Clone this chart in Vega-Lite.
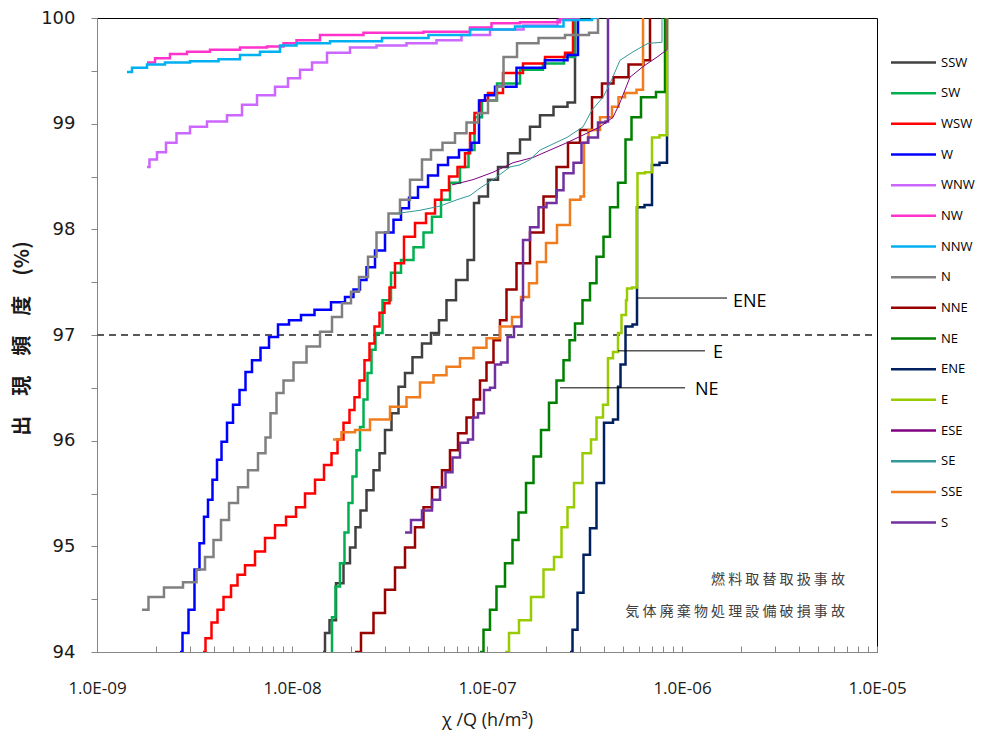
{
  "$schema": "https://vega.github.io/schema/vega-lite/v6.json",
  "width": 780,
  "height": 634,
  "autosize": {"type": "none"},
  "padding": {"left": 97, "top": 18, "right": 107, "bottom": 83},
  "background": "white",
  "config": {"view": {"stroke": "#000", "strokeWidth": 1}},
  "datasets": {
    "lines": [
      {"d":"SSW","x":1.442e-8,"y":94.0},{"d":"SSW","x":1.512e-8,"y":94.18},{"d":"SSW","x":1.604e-8,"y":94.30},{"d":"SSW","x":1.763e-8,"y":94.65},{"d":"SSW","x":1.914e-8,"y":94.84},{"d":"SSW","x":2.055e-8,"y":94.99},{"d":"SSW","x":2.180e-8,"y":95.18},{"d":"SSW","x":2.313e-8,"y":95.34},{"d":"SSW","x":2.512e-8,"y":95.53},{"d":"SSW","x":2.729e-8,"y":95.72},{"d":"SSW","x":2.894e-8,"y":95.88},{"d":"SSW","x":3.107e-8,"y":96.10},{"d":"SSW","x":3.375e-8,"y":96.26},{"d":"SSW","x":3.665e-8,"y":96.51},{"d":"SSW","x":3.934e-8,"y":96.64},{"d":"SSW","x":4.375e-8,"y":96.79},{"d":"SSW","x":4.923e-8,"y":96.92},{"d":"SSW","x":5.412e-8,"y":97.02},{"d":"SSW","x":5.947e-8,"y":97.14},{"d":"SSW","x":6.460e-8,"y":97.33},{"d":"SSW","x":7.445e-8,"y":97.52},{"d":"SSW","x":8.477e-8,"y":97.71},{"d":"SSW","x":8.680e-8,"y":98.25},{"d":"SSW","x":9.539e-8,"y":98.31},{"d":"SSW","x":1.073e-7,"y":98.47},{"d":"SSW","x":1.208e-7,"y":98.59},{"d":"SSW","x":1.359e-7,"y":98.72},{"d":"SSW","x":1.604e-7,"y":98.85},{"d":"SSW","x":1.721e-7,"y":98.97},{"d":"SSW","x":2.031e-7,"y":99.08},{"d":"SSW","x":2.368e-7,"y":99.16},{"d":"SSW","x":2.827e-7,"y":99.20},{"d":"SSW","x":2.827e-7,"y":100},
      {"d":"SW","x":1.585e-8,"y":94.0},{"d":"SW","x":1.623e-8,"y":94.33},{"d":"SW","x":1.721e-8,"y":94.62},{"d":"SW","x":1.805e-8,"y":94.84},{"d":"SW","x":1.914e-8,"y":95.13},{"d":"SW","x":1.983e-8,"y":95.41},{"d":"SW","x":2.104e-8,"y":95.66},{"d":"SW","x":2.180e-8,"y":95.91},{"d":"SW","x":2.286e-8,"y":96.13},{"d":"SW","x":2.368e-8,"y":96.39},{"d":"SW","x":2.512e-8,"y":96.64},{"d":"SW","x":2.603e-8,"y":96.86},{"d":"SW","x":2.761e-8,"y":97.02},{"d":"SW","x":3.070e-8,"y":97.33},{"d":"SW","x":3.375e-8,"y":97.59},{"d":"SW","x":3.888e-8,"y":97.71},{"d":"SW","x":4.534e-8,"y":97.83},{"d":"SW","x":4.923e-8,"y":97.97},{"d":"SW","x":5.541e-8,"y":98.12},{"d":"SW","x":6.090e-8,"y":98.28},{"d":"SW","x":6.854e-8,"y":98.44},{"d":"SW","x":7.713e-8,"y":98.59},{"d":"SW","x":8.378e-8,"y":98.75},{"d":"SW","x":8.887e-8,"y":99.06},{"d":"SW","x":1.0e-7,"y":99.22},{"d":"SW","x":1.267e-7,"y":99.38},{"d":"SW","x":1.721e-7,"y":99.51},{"d":"SW","x":2.180e-7,"y":99.57},{"d":"SW","x":2.827e-7,"y":99.63},{"d":"SW","x":2.827e-7,"y":100},
      {"d":"WSW","x":3.496e-9,"y":94.0},{"d":"WSW","x":3.709e-9,"y":94.13},{"d":"WSW","x":4.028e-9,"y":94.28},{"d":"WSW","x":4.274e-9,"y":94.40},{"d":"WSW","x":4.642e-9,"y":94.52},{"d":"WSW","x":5.103e-9,"y":94.63},{"d":"WSW","x":5.412e-9,"y":94.73},{"d":"WSW","x":6.090e-9,"y":94.82},{"d":"WSW","x":6.854e-9,"y":94.95},{"d":"WSW","x":7.713e-9,"y":95.08},{"d":"WSW","x":8.680e-9,"y":95.20},{"d":"WSW","x":1.0e-8,"y":95.28},{"d":"WSW","x":1.099e-8,"y":95.37},{"d":"WSW","x":1.237e-8,"y":95.50},{"d":"WSW","x":1.392e-8,"y":95.63},{"d":"WSW","x":1.530e-8,"y":95.77},{"d":"WSW","x":1.662e-8,"y":95.88},{"d":"WSW","x":1.763e-8,"y":96.01},{"d":"WSW","x":1.914e-8,"y":96.17},{"d":"WSW","x":2.031e-8,"y":96.29},{"d":"WSW","x":2.154e-8,"y":96.41},{"d":"WSW","x":2.286e-8,"y":96.57},{"d":"WSW","x":2.424e-8,"y":96.76},{"d":"WSW","x":2.572e-8,"y":96.92},{"d":"WSW","x":2.729e-8,"y":97.08},{"d":"WSW","x":2.894e-8,"y":97.21},{"d":"WSW","x":3.070e-8,"y":97.30},{"d":"WSW","x":3.257e-8,"y":97.45},{"d":"WSW","x":3.496e-8,"y":97.68},{"d":"WSW","x":4.028e-8,"y":97.93},{"d":"WSW","x":4.534e-8,"y":98.06},{"d":"WSW","x":5.224e-8,"y":98.15},{"d":"WSW","x":5.608e-8,"y":98.28},{"d":"WSW","x":6.090e-8,"y":98.37},{"d":"WSW","x":6.693e-8,"y":98.50},{"d":"WSW","x":7.445e-8,"y":98.59},{"d":"WSW","x":7.991e-8,"y":98.72},{"d":"WSW","x":8.378e-8,"y":98.91},{"d":"WSW","x":8.887e-8,"y":99.10},{"d":"WSW","x":9.539e-8,"y":99.22},{"d":"WSW","x":1.073e-7,"y":99.29},{"d":"WSW","x":1.359e-7,"y":99.48},{"d":"WSW","x":1.721e-7,"y":99.57},{"d":"WSW","x":2.286e-7,"y":99.63},{"d":"WSW","x":2.761e-7,"y":99.67},{"d":"WSW","x":2.761e-7,"y":100},
      {"d":"W","x":2.665e-9,"y":94.0},{"d":"W","x":2.827e-9,"y":94.18},{"d":"W","x":3.070e-9,"y":94.40},{"d":"W","x":3.257e-9,"y":94.78},{"d":"W","x":3.455e-9,"y":95.03},{"d":"W","x":3.622e-9,"y":95.28},{"d":"W","x":3.797e-9,"y":95.44},{"d":"W","x":4.028e-9,"y":95.63},{"d":"W","x":4.223e-9,"y":95.82},{"d":"W","x":4.481e-9,"y":95.99},{"d":"W","x":4.809e-9,"y":96.17},{"d":"W","x":5.163e-9,"y":96.34},{"d":"W","x":5.608e-9,"y":96.48},{"d":"W","x":5.947e-9,"y":96.65},{"d":"W","x":6.537e-9,"y":96.76},{"d":"W","x":7.271e-9,"y":96.88},{"d":"W","x":7.991e-9,"y":96.98},{"d":"W","x":8.993e-9,"y":97.10},{"d":"W","x":1.036e-8,"y":97.14},{"d":"W","x":1.194e-8,"y":97.19},{"d":"W","x":1.425e-8,"y":97.24},{"d":"W","x":1.763e-8,"y":97.31},{"d":"W","x":1.983e-8,"y":97.36},{"d":"W","x":2.154e-8,"y":97.43},{"d":"W","x":2.313e-8,"y":97.52},{"d":"W","x":2.512e-8,"y":97.64},{"d":"W","x":2.827e-8,"y":97.80},{"d":"W","x":3.181e-8,"y":97.97},{"d":"W","x":3.455e-8,"y":98.09},{"d":"W","x":3.797e-8,"y":98.20},{"d":"W","x":4.173e-8,"y":98.30},{"d":"W","x":4.697e-8,"y":98.40},{"d":"W","x":5.286e-8,"y":98.51},{"d":"W","x":5.947e-8,"y":98.61},{"d":"W","x":6.693e-8,"y":98.68},{"d":"W","x":7.713e-8,"y":98.75},{"d":"W","x":8.993e-8,"y":98.82},{"d":"W","x":9.207e-8,"y":99.22},{"d":"W","x":1.036e-7,"y":99.27},{"d":"W","x":1.166e-7,"y":99.35},{"d":"W","x":1.721e-7,"y":99.53},{"d":"W","x":2.286e-7,"y":99.60},{"d":"W","x":2.929e-7,"y":99.65},{"d":"W","x":2.929e-7,"y":100},
      {"d":"WNW","x":1.805e-9,"y":98.59},{"d":"WNW","x":1.914e-9,"y":98.66},{"d":"WNW","x":2.154e-9,"y":98.73},{"d":"WNW","x":2.368e-9,"y":98.82},{"d":"WNW","x":2.761e-9,"y":98.91},{"d":"WNW","x":3.257e-9,"y":98.97},{"d":"WNW","x":4.125e-9,"y":99.02},{"d":"WNW","x":5.224e-9,"y":99.08},{"d":"WNW","x":5.878e-9,"y":99.18},{"d":"WNW","x":7.445e-9,"y":99.27},{"d":"WNW","x":8.993e-9,"y":99.35},{"d":"WNW","x":1.012e-8,"y":99.43},{"d":"WNW","x":1.194e-8,"y":99.51},{"d":"WNW","x":1.344e-8,"y":99.58},{"d":"WNW","x":1.701e-8,"y":99.67},{"d":"WNW","x":2.313e-8,"y":99.72},{"d":"WNW","x":3.181e-8,"y":99.74},{"d":"WNW","x":4.697e-8,"y":99.76},{"d":"WNW","x":6.460e-8,"y":99.79},{"d":"WNW","x":8.477e-8,"y":99.84},{"d":"WNW","x":1.267e-7,"y":99.89},{"d":"WNW","x":1.870e-7,"y":99.93},{"d":"WNW","x":2.827e-7,"y":99.98},
      {"d":"NW","x":1.805e-9,"y":99.58},{"d":"NW","x":2.180e-9,"y":99.62},{"d":"NW","x":2.572e-9,"y":99.66},{"d":"NW","x":3.257e-9,"y":99.68},{"d":"NW","x":4.428e-9,"y":99.70},{"d":"NW","x":6.615e-9,"y":99.72},{"d":"NW","x":8.378e-9,"y":99.73},{"d":"NW","x":9.766e-9,"y":99.76},{"d":"NW","x":1.139e-8,"y":99.79},{"d":"NW","x":1.701e-8,"y":99.84},{"d":"NW","x":3.181e-8,"y":99.86},{"d":"NW","x":7.017e-8,"y":99.87},{"d":"NW","x":9.539e-8,"y":99.91},{"d":"NW","x":1.166e-7,"y":99.95},{"d":"NW","x":1.870e-7,"y":99.96},{"d":"NW","x":2.999e-7,"y":100},
      {"d":"NNW","x":1.425e-9,"y":99.49},{"d":"NNW","x":1.604e-9,"y":99.53},{"d":"NNW","x":2.031e-9,"y":99.56},{"d":"NNW","x":2.453e-9,"y":99.58},{"d":"NNW","x":3.665e-9,"y":99.59},{"d":"NNW","x":4.809e-9,"y":99.61},{"d":"NNW","x":6.090e-9,"y":99.65},{"d":"NNW","x":7.713e-9,"y":99.68},{"d":"NNW","x":9.766e-9,"y":99.74},{"d":"NNW","x":1.139e-8,"y":99.76},{"d":"NNW","x":2.154e-8,"y":99.78},{"d":"NNW","x":3.888e-8,"y":99.81},{"d":"NNW","x":6.460e-8,"y":99.84},{"d":"NNW","x":1.036e-7,"y":99.89},{"d":"NNW","x":1.870e-7,"y":99.92},{"d":"NNW","x":3.257e-7,"y":99.98},{"d":"NNW","x":3.665e-7,"y":100},
      {"d":"N","x":1.701e-9,"y":94.40},{"d":"N","x":1.983e-9,"y":94.52},{"d":"N","x":2.453e-9,"y":94.61},{"d":"N","x":3.107e-9,"y":94.66},{"d":"N","x":3.375e-9,"y":94.78},{"d":"N","x":3.797e-9,"y":94.90},{"d":"N","x":4.125e-9,"y":95.06},{"d":"N","x":4.534e-9,"y":95.25},{"d":"N","x":4.983e-9,"y":95.41},{"d":"N","x":5.608e-9,"y":95.56},{"d":"N","x":6.310e-9,"y":95.72},{"d":"N","x":7.101e-9,"y":95.88},{"d":"N","x":7.533e-9,"y":96.03},{"d":"N","x":7.991e-9,"y":96.26},{"d":"N","x":8.680e-9,"y":96.45},{"d":"N","x":9.428e-9,"y":96.57},{"d":"N","x":1.099e-8,"y":96.74},{"d":"N","x":1.282e-8,"y":96.89},{"d":"N","x":1.512e-8,"y":97.03},{"d":"N","x":1.701e-8,"y":97.17},{"d":"N","x":1.914e-8,"y":97.30},{"d":"N","x":2.104e-8,"y":97.41},{"d":"N","x":2.313e-8,"y":97.55},{"d":"N","x":2.603e-8,"y":97.74},{"d":"N","x":2.827e-8,"y":97.97},{"d":"N","x":3.455e-8,"y":98.15},{"d":"N","x":3.709e-8,"y":98.28},{"d":"N","x":4.375e-8,"y":98.47},{"d":"N","x":4.923e-8,"y":98.66},{"d":"N","x":5.412e-8,"y":98.75},{"d":"N","x":6.460e-8,"y":98.82},{"d":"N","x":7.271e-8,"y":98.91},{"d":"N","x":8.477e-8,"y":99.01},{"d":"N","x":9.539e-8,"y":99.10},{"d":"N","x":1.073e-7,"y":99.22},{"d":"N","x":1.166e-7,"y":99.35},{"d":"N","x":1.267e-7,"y":99.63},{"d":"N","x":1.604e-7,"y":99.76},{"d":"N","x":2.104e-7,"y":99.81},{"d":"N","x":2.999e-7,"y":99.84},{"d":"N","x":3.709e-7,"y":99.86},{"d":"N","x":3.709e-7,"y":100},
      {"d":"NNE","x":2.104e-8,"y":94.0},{"d":"NNE","x":2.424e-8,"y":94.18},{"d":"NNE","x":2.827e-8,"y":94.37},{"d":"NNE","x":3.181e-8,"y":94.59},{"d":"NNE","x":3.580e-8,"y":94.80},{"d":"NNE","x":4.028e-8,"y":94.99},{"d":"NNE","x":4.534e-8,"y":95.18},{"d":"NNE","x":4.923e-8,"y":95.37},{"d":"NNE","x":5.541e-8,"y":95.56},{"d":"NNE","x":6.235e-8,"y":95.72},{"d":"NNE","x":6.693e-8,"y":95.91},{"d":"NNE","x":7.533e-8,"y":96.07},{"d":"NNE","x":8.182e-8,"y":96.22},{"d":"NNE","x":8.887e-8,"y":96.39},{"d":"NNE","x":9.539e-8,"y":96.57},{"d":"NNE","x":1.036e-7,"y":96.74},{"d":"NNE","x":1.125e-7,"y":96.95},{"d":"NNE","x":1.208e-7,"y":97.14},{"d":"NNE","x":1.312e-7,"y":97.43},{"d":"NNE","x":1.530e-7,"y":97.68},{"d":"NNE","x":1.805e-7,"y":97.97},{"d":"NNE","x":2.104e-7,"y":98.31},{"d":"NNE","x":2.453e-7,"y":98.59},{"d":"NNE","x":2.761e-7,"y":98.82},{"d":"NNE","x":3.257e-7,"y":98.94},{"d":"NNE","x":3.665e-7,"y":99.25},{"d":"NNE","x":4.125e-7,"y":99.38},{"d":"NNE","x":4.809e-7,"y":99.44},{"d":"NNE","x":5.878e-7,"y":99.56},{"d":"NNE","x":6.854e-7,"y":99.60},{"d":"NNE","x":6.854e-7,"y":100},
      {"d":"NE","x":9.207e-8,"y":94.0},{"d":"NE","x":1.0e-7,"y":94.21},{"d":"NE","x":1.073e-7,"y":94.40},{"d":"NE","x":1.166e-7,"y":94.62},{"d":"NE","x":1.312e-7,"y":94.84},{"d":"NE","x":1.392e-7,"y":95.06},{"d":"NE","x":1.512e-7,"y":95.32},{"d":"NE","x":1.662e-7,"y":95.60},{"d":"NE","x":1.805e-7,"y":95.85},{"d":"NE","x":1.983e-7,"y":96.10},{"d":"NE","x":2.180e-7,"y":96.36},{"d":"NE","x":2.368e-7,"y":96.57},{"d":"NE","x":2.572e-7,"y":96.76},{"d":"NE","x":2.729e-7,"y":96.95},{"d":"NE","x":2.929e-7,"y":97.11},{"d":"NE","x":3.257e-7,"y":97.33},{"d":"NE","x":3.496e-7,"y":97.49},{"d":"NE","x":3.797e-7,"y":97.74},{"d":"NE","x":4.125e-7,"y":97.93},{"d":"NE","x":4.428e-7,"y":98.21},{"d":"NE","x":4.983e-7,"y":98.44},{"d":"NE","x":5.286e-7,"y":98.85},{"d":"NE","x":5.741e-7,"y":99.06},{"d":"NE","x":6.615e-7,"y":99.25},{"d":"NE","x":8.182e-7,"y":99.30},{"d":"NE","x":8.182e-7,"y":100},
      {"d":"ENE","x":2.665e-7,"y":94.0},{"d":"ENE","x":2.827e-7,"y":94.21},{"d":"ENE","x":2.999e-7,"y":94.56},{"d":"ENE","x":3.257e-7,"y":94.92},{"d":"ENE","x":3.496e-7,"y":95.17},{"d":"ENE","x":3.797e-7,"y":95.60},{"d":"ENE","x":4.173e-7,"y":96.17},{"d":"ENE","x":4.697e-7,"y":96.20},{"d":"ENE","x":4.697e-7,"y":96.51},{"d":"ENE","x":4.983e-7,"y":96.72},{"d":"ENE","x":5.286e-7,"y":97.08},{"d":"ENE","x":5.878e-7,"y":97.10},{"d":"ENE","x":5.878e-7,"y":98.21},{"d":"ENE","x":7.017e-7,"y":98.23},{"d":"ENE","x":7.017e-7,"y":98.61},{"d":"ENE","x":8.378e-7,"y":98.63},{"d":"ENE","x":8.378e-7,"y":100},
      {"d":"E","x":1.237e-7,"y":94.0},{"d":"E","x":1.359e-7,"y":94.18},{"d":"E","x":1.566e-7,"y":94.30},{"d":"E","x":1.805e-7,"y":94.52},{"d":"E","x":2.104e-7,"y":94.78},{"d":"E","x":2.313e-7,"y":94.90},{"d":"E","x":2.512e-7,"y":95.18},{"d":"E","x":2.665e-7,"y":95.37},{"d":"E","x":2.929e-7,"y":95.60},{"d":"E","x":3.257e-7,"y":95.88},{"d":"E","x":3.580e-7,"y":96.01},{"d":"E","x":3.709e-7,"y":96.22},{"d":"E","x":4.173e-7,"y":96.34},{"d":"E","x":4.173e-7,"y":96.78},{"d":"E","x":4.697e-7,"y":96.84},{"d":"E","x":4.697e-7,"y":97.02},{"d":"E","x":5.103e-7,"y":97.19},{"d":"E","x":5.224e-7,"y":97.33},{"d":"E","x":5.224e-7,"y":97.44},{"d":"E","x":5.878e-7,"y":97.45},{"d":"E","x":5.878e-7,"y":98.21},{"d":"E","x":5.947e-7,"y":98.53},{"d":"E","x":7.017e-7,"y":98.54},{"d":"E","x":7.017e-7,"y":98.87},{"d":"E","x":8.378e-7,"y":98.89},{"d":"E","x":8.378e-7,"y":100},
      {"d":"ESE","x":6.615e-8,"y":98.42},{"d":"ESE","x":8.477e-8,"y":98.47},{"d":"ESE","x":1.073e-7,"y":98.54},{"d":"ESE","x":1.359e-7,"y":98.63},{"d":"ESE","x":1.721e-7,"y":98.68},{"d":"ESE","x":2.572e-7,"y":98.82},{"d":"ESE","x":3.257e-7,"y":98.91},{"d":"ESE","x":3.797e-7,"y":98.97},{"d":"ESE","x":4.428e-7,"y":99.06},{"d":"ESE","x":4.809e-7,"y":99.20},{"d":"ESE","x":5.412e-7,"y":99.44},{"d":"ESE","x":6.310e-7,"y":99.54},{"d":"ESE","x":7.445e-7,"y":99.63},{"d":"ESE","x":8.378e-7,"y":99.70},{"d":"ESE","x":8.378e-7,"y":100},
      {"d":"SE","x":3.455e-8,"y":98.15},{"d":"SE","x":4.534e-8,"y":98.18},{"d":"SE","x":5.741e-8,"y":98.22},{"d":"SE","x":7.017e-8,"y":98.28},{"d":"SE","x":8.182e-8,"y":98.32},{"d":"SE","x":9.207e-8,"y":98.39},{"d":"SE","x":1.073e-7,"y":98.47},{"d":"SE","x":1.312e-7,"y":98.59},{"d":"SE","x":1.476e-7,"y":98.61},{"d":"SE","x":1.662e-7,"y":98.66},{"d":"SE","x":1.870e-7,"y":98.75},{"d":"SE","x":2.572e-7,"y":98.87},{"d":"SE","x":3.107e-7,"y":98.97},{"d":"SE","x":3.455e-7,"y":99.13},{"d":"SE","x":3.934e-7,"y":99.25},{"d":"SE","x":4.274e-7,"y":99.38},{"d":"SE","x":4.809e-7,"y":99.60},{"d":"SE","x":5.608e-7,"y":99.68},{"d":"SE","x":6.693e-7,"y":99.76},{"d":"SE","x":7.897e-7,"y":99.77},{"d":"SE","x":7.897e-7,"y":100},
      {"d":"SSE","x":1.623e-8,"y":96.01},{"d":"SSE","x":1.983e-8,"y":96.08},{"d":"SSE","x":2.232e-8,"y":96.10},{"d":"SSE","x":2.827e-8,"y":96.20},{"d":"SSE","x":3.580e-8,"y":96.32},{"d":"SSE","x":4.173e-8,"y":96.41},{"d":"SSE","x":4.923e-8,"y":96.55},{"d":"SSE","x":5.741e-8,"y":96.62},{"d":"SSE","x":6.693e-8,"y":96.70},{"d":"SSE","x":7.897e-8,"y":96.78},{"d":"SSE","x":9.207e-8,"y":96.88},{"d":"SSE","x":1.073e-7,"y":96.97},{"d":"SSE","x":1.267e-7,"y":97.08},{"d":"SSE","x":1.425e-7,"y":97.17},{"d":"SSE","x":1.566e-7,"y":97.36},{"d":"SSE","x":1.721e-7,"y":97.49},{"d":"SSE","x":1.892e-7,"y":97.69},{"d":"SSE","x":2.129e-7,"y":97.87},{"d":"SSE","x":2.453e-7,"y":98.04},{"d":"SSE","x":2.894e-7,"y":98.28},{"d":"SSE","x":3.144e-7,"y":98.31},{"d":"SSE","x":3.144e-7,"y":98.82},{"d":"SSE","x":3.496e-7,"y":98.94},{"d":"SSE","x":4.125e-7,"y":99.06},{"d":"SSE","x":4.642e-7,"y":99.16},{"d":"SSE","x":4.809e-7,"y":99.25},{"d":"SSE","x":5.412e-7,"y":99.29},{"d":"SSE","x":6.310e-7,"y":99.32},{"d":"SSE","x":6.310e-7,"y":100},
      {"d":"S","x":3.797e-8,"y":95.13},{"d":"S","x":4.375e-8,"y":95.25},{"d":"S","x":4.923e-8,"y":95.34},{"d":"S","x":5.541e-8,"y":95.44},{"d":"S","x":5.947e-8,"y":95.56},{"d":"S","x":6.310e-8,"y":95.70},{"d":"S","x":7.017e-8,"y":95.84},{"d":"S","x":7.533e-8,"y":95.98},{"d":"S","x":8.477e-8,"y":96.01},{"d":"S","x":8.477e-8,"y":96.22},{"d":"S","x":9.539e-8,"y":96.26},{"d":"S","x":9.766e-8,"y":96.48},{"d":"S","x":1.099e-7,"y":96.50},{"d":"S","x":1.099e-7,"y":96.72},{"d":"S","x":1.267e-7,"y":96.74},{"d":"S","x":1.282e-7,"y":96.98},{"d":"S","x":1.476e-7,"y":97.08},{"d":"S","x":1.530e-7,"y":97.33},{"d":"S","x":1.530e-7,"y":97.90},{"d":"S","x":1.805e-7,"y":98.02},{"d":"S","x":1.870e-7,"y":98.21},{"d":"S","x":2.180e-7,"y":98.25},{"d":"S","x":2.368e-7,"y":98.37},{"d":"S","x":2.572e-7,"y":98.53},{"d":"S","x":2.999e-7,"y":98.63},{"d":"S","x":3.107e-7,"y":98.82},{"d":"S","x":3.496e-7,"y":98.87},{"d":"S","x":3.934e-7,"y":99.01},{"d":"S","x":4.173e-7,"y":99.02},{"d":"S","x":4.173e-7,"y":100}
    ],
    "leaders": [
      {"label":"ENE","x":5.878e-7,"x2":1.701e-6,"y":97.35,"tx":1.826e-6,"ty":97.31},
      {"label":"E","x":4.697e-7,"x2":1.312e-6,"y":96.85,"tx":1.442e-6,"ty":96.83},
      {"label":"NE","x":2.368e-7,"x2":1.036e-6,"y":96.50,"tx":1.166e-6,"ty":96.48}
    ],
    "notes": [
      {"t":"燃 料 取 替 取 扱 事 故","x":6.854e-6,"y":94.68},
      {"t":"気 体 廃 棄 物 処 理 設 備 破 損 事 故","x":6.854e-6,"y":94.38}
    ]
  },
  "encoding": {
    "x": {
      "field": "x", "type": "quantitative",
      "scale": {"type": "log", "domain": [1e-9, 1e-5], "nice": false},
      "axis": {
        "title": "χ /Q (h/m³)",
        "values": [1e-9,2e-9,3e-9,4e-9,5e-9,6e-9,7e-9,8e-9,9e-9,1e-8,2e-8,3e-8,4e-8,5e-8,6e-8,7e-8,8e-8,9e-8,1e-7,2e-7,3e-7,4e-7,5e-7,6e-7,7e-7,8e-7,9e-7,1e-6,2e-6,3e-6,4e-6,5e-6,6e-6,7e-6,8e-6,9e-6,1e-5],
        "labelExpr": "abs(log(datum.value)/LN10 - round(log(datum.value)/LN10)) < 0.001 ? '1.0E-0' + round(-log(datum.value)/LN10) : ''",
        "grid": false,
        "domainColor": "#868686", "tickColor": "#868686",
        "tickSize": -6, "labelPadding": 34,
        "labelFont": "Open Sans", "labelFontSize": 17, "labelColor": "#1a1a1a",
        "labelOverlap": false, "labelFlush": false,
        "titleFont": "Open Sans", "titleFontSize": 18, "titleFontWeight": "normal", "titleColor": "#1a1a1a",
        "titleX": 390, "titleY": 68, "titleBaseline": "middle"
      }
    },
    "y": {
      "field": "y", "type": "quantitative",
      "scale": {"domain": [94, 100], "nice": false, "zero": false},
      "axis": {
        "title": "出　現　頻　度　(%)",
        "values": [94,94.5,95,95.5,96,96.5,97,97.5,98,98.5,99,99.5,100],
        "labelExpr": "datum.value == round(datum.value) ? format(datum.value, 'd') : ''",
        "grid": false,
        "domainColor": "#868686", "tickColor": "#868686",
        "tickSize": 6, "labelPadding": 16,
        "labelFont": "DejaVu Sans", "labelFontSize": 18, "labelColor": "#1a1a1a",
        "labelOverlap": false,
        "titleFont": "Noto Sans CJK JP", "titleFontSize": 20, "titleFontWeight": "bold", "titleColor": "#1a1a1a",
        "titleAngle": -90, "titleX": -75, "titleY": 320, "titleAlign": "center", "titleBaseline": "middle"
      }
    }
  },
  "layer": [
    {
      "data": {"values": [{"x": 1e-9, "x2": 1e-5, "y": 97}]},
      "mark": {"type": "rule", "color": "#595959", "strokeWidth": 2, "strokeDash": [7, 5]},
      "encoding": {"x2": {"field": "x2"}}
    },
    {
      "data": {"name": "lines"},
      "transform": [{"filter": "indexof(['ESE','SE'], datum.d) < 0"}],
      "mark": {"type": "line", "clip": true, "interpolate": "step"},
      "encoding": {
        "order": {"value": null},
        "color": {
          "field": "d", "type": "nominal",
          "scale": {
            "domain": ["SSW","SW","WSW","W","WNW","NW","NNW","N","NNE","NE","ENE","E","ESE","SE","SSE","S"],
            "range": ["#404040","#00B050","#FF0000","#0000FF","#CC66FF","#FF33CC","#00B0F0","#808080","#990000","#008000","#002060","#99CC00","#800080","#339999","#F07C1E","#7030A0"]
          },
          "legend": {
            "title": null, "orient": "none", "legendX": 800, "legendY": 28,
            "symbolType": "M-1.5,0H1.5", "symbolSize": 900,
            "labelFont": "Open Sans", "labelFontSize": 13, "labelColor": "#000",
            "labelOffset": 11, "rowPadding": 6.67, "padding": 0
          }
        },
        "strokeWidth": {
          "field": "d", "type": "nominal",
          "scale": {
            "domain": ["SSW","SW","WSW","W","WNW","NW","NNW","N","NNE","NE","ENE","E","ESE","SE","SSE","S"],
            "range": [2.5,2.5,2.5,2.5,2.5,2.5,2.5,2.5,2.5,2.5,2.5,2.5,1,1,2.5,2.5]
          },
          "legend": {
            "title": null, "orient": "none", "legendX": 800, "legendY": 28,
            "symbolType": "M-1.5,0H1.5", "symbolSize": 900,
            "labelFont": "Open Sans", "labelFontSize": 13, "labelColor": "#000",
            "labelOffset": 11, "rowPadding": 6.67, "padding": 0
          }
        }
      }
    },
    {
      "data": {"name": "lines"},
      "transform": [{"filter": "indexof(['ESE','SE'], datum.d) >= 0"}],
      "mark": {"type": "line", "clip": true, "interpolate": "linear", "strokeWidth": 1},
      "encoding": {
        "order": {"value": null},
        "color": {
          "field": "d", "type": "nominal",
          "legend": {
            "title": null, "orient": "none", "legendX": 800, "legendY": 28,
            "symbolType": "M-1.5,0H1.5", "symbolSize": 900,
            "labelFont": "Open Sans", "labelFontSize": 13, "labelColor": "#000",
            "labelOffset": 11, "rowPadding": 6.67, "padding": 0
          }
        }
      }
    },
    {
      "data": {"name": "leaders"},
      "mark": {"type": "rule", "color": "#000", "strokeWidth": 1},
      "encoding": {"x2": {"field": "x2"}}
    },
    {
      "data": {"name": "leaders"},
      "mark": {"type": "text", "align": "left", "baseline": "middle", "font": "Open Sans", "fontSize": 18, "color": "#000"},
      "encoding": {
        "x": {"field": "tx", "type": "quantitative"},
        "y": {"field": "ty", "type": "quantitative"},
        "text": {"field": "label"}
      }
    },
    {
      "data": {"name": "notes"},
      "mark": {"type": "text", "align": "right", "baseline": "middle", "font": "Noto Sans CJK JP", "fontSize": 14, "color": "#404040"},
      "encoding": {"text": {"field": "t"}}
    }
  ]
}
